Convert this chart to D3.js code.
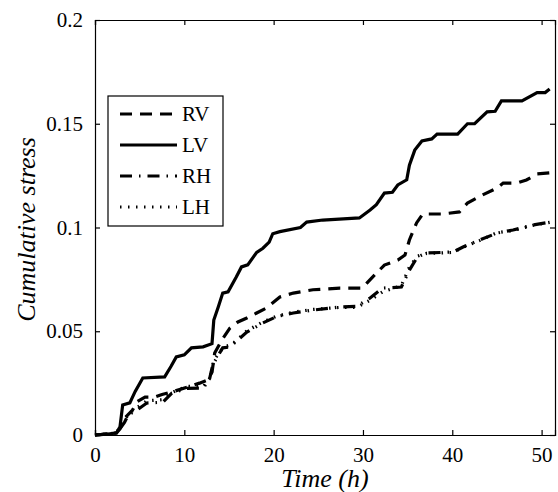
<!DOCTYPE html>
<html>
<head>
<meta charset="utf-8">
<script src="https://cdn.jsdelivr.net/npm/d3@7"></script>
<style>
	body { margin: 0; background: #fff; }
	#graphic text { font-family: "Liberation Serif", "Times New Roman", serif; fill: #000; }
</style>
</head>
<body>
<div id="graphic"></div>
<script>
// series data: [time (h), cumulative stress]
const seriesNames = ['RV', 'LV', 'RH', 'LH'];

const rvData = [[0,0],[1.5,0.0005],[2.4,0.001],[2.8,0.003],[3.3,0.008],[4.2,0.012],[4.7,0.016],[5.6,0.0183],[6.7,0.0183],[7.5,0.0195],[8.6,0.0207],[10.3,0.023],[11.7,0.025],[12.6,0.0265],[13.1,0.0303],[13.4,0.0395],[14.2,0.0458],[15.1,0.0515],[16,0.0545],[17,0.0564],[18.1,0.0588],[19.2,0.0612],[20.7,0.0665],[22.2,0.0684],[24.4,0.07],[27.4,0.0708],[29.9,0.0708],[31.1,0.0762],[32.4,0.0819],[33.9,0.0843],[34.7,0.0867],[35.2,0.094],[36,0.1022],[36.7,0.1065],[38.9,0.1065],[40.8,0.1075],[41.7,0.1118],[43.4,0.1157],[45,0.119],[45.7,0.1214],[47.2,0.1214],[48.3,0.1229],[49.5,0.1258],[50.9,0.1263]];

const lvData = [[0,0],[1.5,0.0005],[2.4,0.001],[2.8,0.004],[3.1,0.0145],[3.9,0.0155],[4.5,0.021],[5.35,0.0275],[7.8,0.028],[8.5,0.033],[9.1,0.0376],[10,0.0386],[10.8,0.042],[12.1,0.0425],[13.1,0.044],[13.3,0.0554],[13.8,0.0617],[14.3,0.0684],[14.9,0.069],[15.8,0.076],[16.4,0.081],[17.1,0.082],[18.1,0.088],[18.8,0.09],[19.5,0.093],[19.9,0.097],[20.7,0.098],[23,0.1],[23.7,0.1026],[25.5,0.1036],[27.8,0.1042],[29.6,0.1046],[30.8,0.1084],[31.5,0.111],[32.4,0.1166],[33.3,0.117],[33.9,0.1205],[34.9,0.123],[35.2,0.13],[35.8,0.1373],[36.6,0.1417],[37.7,0.1427],[38.3,0.145],[40.6,0.145],[41.7,0.15],[42.5,0.15],[43.9,0.1557],[44.8,0.156],[45.5,0.161],[47.8,0.161],[49.5,0.165],[50.4,0.165],[50.9,0.1667]];

const rhData = [[0,0],[1.5,0.0005],[2.4,0.001],[2.8,0.003],[3.3,0.006],[3.7,0.0096],[4.7,0.012],[5.8,0.0154],[7.6,0.0158],[8.6,0.0202],[10.3,0.0225],[12.1,0.0226],[12.8,0.0265],[13.2,0.034],[14.3,0.042],[15.1,0.0424],[17,0.0496],[18.8,0.054],[20.3,0.057],[22.2,0.0588],[24.4,0.0602],[27.4,0.0617],[29.3,0.062],[30.8,0.066],[32.2,0.0708],[34.3,0.0713],[35.2,0.0795],[36.1,0.0858],[37.1,0.0877],[40.1,0.0882],[41.2,0.0906],[43.1,0.094],[45,0.0973],[46.8,0.0988],[49,0.1012],[50.9,0.1026]];

const lhData = [[0,0],[1.5,0.0005],[2.4,0.001],[2.8,0.004],[3.3,0.007],[3.8,0.0105],[4.8,0.0135],[5.8,0.0165],[7.5,0.017],[8.6,0.0205],[10.3,0.0235],[12.1,0.0232],[12.9,0.0275],[13.3,0.036],[14.4,0.0425],[15.3,0.0435],[17,0.0502],[18.8,0.0545],[20.3,0.0572],[22.2,0.0592],[24.4,0.0605],[27.4,0.0615],[29.3,0.0615],[30.8,0.065],[32.2,0.069],[34.3,0.072],[35.2,0.081],[36.1,0.0862],[37.1,0.0875],[40.1,0.088],[41.2,0.0905],[43.1,0.0938],[45,0.0975],[46.8,0.0985],[49,0.101],[50.9,0.1025]];

const xTicks = [0, 10, 20, 30, 40, 50];
const yTicks = [0, 0.05, 0.1, 0.15, 0.2];
const xDomain = [0, 51.5];
const yDomain = [0, 0.2];

const dashStyles = ['12,8', null, '12,7,1.5,7', '1.5,6.5'];

const margin = { top: 20, right: 3, bottom: 57, left: 95 };
const width = 558, height = 492;
const chartWidth = width - margin.left - margin.right;
const chartHeight = height - margin.top - margin.bottom;

const svg = d3.select('#graphic')
	.append('svg')
	.attr('width', width)
	.attr('height', height)
	.append('g')
	.attr('transform', `translate(${margin.left},${margin.top})`);

const x = d3.scaleLinear().domain(xDomain).range([0, chartWidth]);
const y = d3.scaleLinear().domain(yDomain).range([chartHeight, 0]);

const fmt = d => d === 0 ? '0' : String(d);

// axes with inside ticks, mirrored on top and right
svg.append('g')
	.attr('class', 'x axis')
	.attr('transform', `translate(0,${chartHeight})`)
	.call(d3.axisBottom(x).tickValues(xTicks).tickSize(-5).tickPadding(12).tickFormat(fmt));

svg.append('g')
	.attr('class', 'x axis top')
	.call(d3.axisTop(x).tickValues(xTicks).tickSize(-5).tickFormat(''));

svg.append('g')
	.attr('class', 'y axis')
	.call(d3.axisLeft(y).tickValues(yTicks).tickSize(-5).tickPadding(12).tickFormat(fmt));

svg.append('g')
	.attr('class', 'y axis right')
	.attr('transform', `translate(${chartWidth},0)`)
	.call(d3.axisRight(y).tickValues(yTicks).tickSize(-5).tickFormat(''));

svg.selectAll('.axis path, .axis line')
	.attr('stroke', '#000')
	.attr('stroke-width', 1.2);
svg.selectAll('.axis text')
	.style('font-size', '21px');

// the lines
const line = d3.line()
	.x(d => x(d[0]))
	.y(d => y(d[1]));

const allSeries = [rvData, lvData, rhData, lhData];

svg.append('g')
	.selectAll('path')
	.data(allSeries)
	.join('path')
	.attr('d', line)
	.attr('fill', 'none')
	.attr('stroke', '#000')
	.attr('stroke-width', 3.2)
	.attr('stroke-dasharray', (d, i) => dashStyles[i]);

// legend
const legend = svg.append('g')
	.attr('transform', 'translate(13,76)');

legend.append('rect')
	.attr('width', 115)
	.attr('height', 130)
	.attr('fill', '#fff')
	.attr('stroke', '#000')
	.attr('stroke-width', 1.2);

const legendItem = legend.selectAll('g.item')
	.data(seriesNames)
	.join('g')
	.attr('class', 'item')
	.attr('transform', (d, i) => `translate(0,${18 + i * 31})`);

legendItem.append('line')
	.attr('x1', 12)
	.attr('x2', 69)
	.attr('stroke', '#000')
	.attr('stroke-width', 3.2)
	.attr('stroke-dasharray', (d, i) => dashStyles[i]);

legendItem.append('text')
	.attr('x', 74)
	.attr('dy', '0.35em')
	.style('font-size', '21px')
	.text(d => d);

// axis titles
svg.append('text')
	.attr('x', chartWidth / 2)
	.attr('y', chartHeight + 52)
	.attr('text-anchor', 'middle')
	.style('font-size', '26px')
	.style('font-style', 'italic')
	.text('Time (h)');

svg.append('text')
	.attr('transform', `translate(${26 - margin.left},${chartHeight / 2 + 2}) rotate(-90)`)
	.attr('text-anchor', 'middle')
	.attr('dy', '0.35em')
	.style('font-size', '26px')
	.style('font-style', 'italic')
	.text('Cumulative stress');
</script>
</body>
</html>
